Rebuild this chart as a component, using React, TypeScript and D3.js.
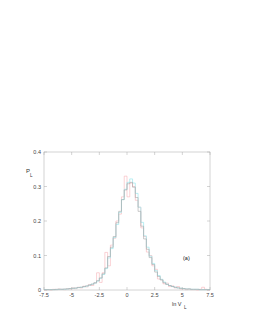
import * as d3 from 'd3';

// bins: 60 bins of width 0.25 from -7.5 to 7.5
const binStart = -7.5;
const binWidth = 0.25;

const grayValues = [
  0.001, 0.001, 0.001, 0.001, 0.002, 0.002, 0.002, 0.003, 0.003, 0.004,
  0.005, 0.006, 0.007, 0.008, 0.01, 0.012, 0.014, 0.017, 0.021, 0.027,
  0.035, 0.047, 0.064, 0.097, 0.124, 0.155, 0.195, 0.228, 0.262, 0.29,
  0.308, 0.312, 0.298, 0.268, 0.228, 0.185, 0.148, 0.118, 0.094, 0.074,
  0.052, 0.039, 0.029, 0.021, 0.016, 0.013, 0.01, 0.008, 0.006, 0.005,
  0.004, 0.003, 0.003, 0.002, 0.002, 0.002, 0.001, 0.001, 0.001, 0.001,
];

const cyanValues = [
  0.001, 0.001, 0.001, 0.001, 0.001, 0.002, 0.002, 0.002, 0.003, 0.004,
  0.005, 0.005, 0.007, 0.008, 0.009, 0.011, 0.014, 0.017, 0.02, 0.026,
  0.034, 0.045, 0.062, 0.093, 0.12, 0.152, 0.19, 0.225, 0.262, 0.292,
  0.312, 0.322, 0.31, 0.28, 0.24, 0.196, 0.157, 0.124, 0.098, 0.077,
  0.056, 0.042, 0.031, 0.023, 0.017, 0.013, 0.01, 0.008, 0.006, 0.005,
  0.004, 0.003, 0.003, 0.002, 0.002, 0.002, 0.001, 0.001, 0.001, 0.001,
];

const pinkValues = [
  0.0, 0.001, 0.0, 0.002, 0.001, 0.003, 0.002, 0.001, 0.004, 0.003,
  0.006, 0.004, 0.008, 0.006, 0.011, 0.009, 0.016, 0.013, 0.02, 0.05,
  0.022, 0.05, 0.109, 0.07, 0.13, 0.15, 0.2, 0.22, 0.27, 0.33,
  0.27, 0.31, 0.3, 0.26, 0.24, 0.18, 0.155, 0.11, 0.1, 0.07,
  0.06, 0.032, 0.03, 0.018, 0.02, 0.01, 0.012, 0.006, 0.01, 0.003,
  0.004, 0.001, 0.003, 0.001, 0.001, 0.0, 0.002, 0.008, 0.002, 0.0,
];

const xTicks = [-7.5, -5, -2.5, 0, 2.5, 5, 7.5];
const yTicks = [0, 0.1, 0.2, 0.3, 0.4];

const font = "'Liberation Sans', Arial, sans-serif";

function stepPath(values: number[], x: d3.ScaleLinear<number, number>, y: d3.ScaleLinear<number, number>) {
  const pts: [number, number][] = [];
  values.forEach((v, i) => {
    const x0 = binStart + i * binWidth;
    pts.push([x(x0), y(v)]);
    pts.push([x(x0 + binWidth), y(v)]);
  });
  return d3.line()(pts) ?? '';
}

export default function App() {
  const left = 44;
  const right = 210;
  const top = 152;
  const bottom = 290;

  const x = d3.scaleLinear().domain([-7.5, 7.5]).range([left, right]);
  const y = d3.scaleLinear().domain([0, 0.4]).range([bottom, top]);

  const tickLen = 3;
  const frame = '#a8a8a8';

  return (
    <svg
      width={253}
      height={327}
      style={{ position: 'absolute', left: 0, top: 0, background: '#fff' }}
    >
      <rect x={left} y={top} width={right - left} height={bottom - top} fill="none" stroke={frame} strokeWidth={0.5} />
      {xTicks.map((t) => (
        <g key={t}>
          <line x1={x(t)} x2={x(t)} y1={bottom} y2={bottom - tickLen} stroke={frame} strokeWidth={0.5} />
          <line x1={x(t)} x2={x(t)} y1={top} y2={top + tickLen} stroke={frame} strokeWidth={0.5} />
          <text x={x(t)} y={bottom + 7} textAnchor="middle" fontSize={5.5} fontFamily={font} fill="#444">
            {t}
          </text>
        </g>
      ))}
      {yTicks.map((t) => (
        <g key={t}>
          <line x1={left} x2={left + tickLen} y1={y(t)} y2={y(t)} stroke={frame} strokeWidth={0.5} />
          <line x1={right} x2={right - tickLen} y1={y(t)} y2={y(t)} stroke={frame} strokeWidth={0.5} />
          <text x={left - 3} y={y(t) + 2} textAnchor="end" fontSize={5.5} fontFamily={font} fill="#444">
            {t}
          </text>
        </g>
      ))}

      <path d={stepPath(pinkValues, x, y)} fill="none" stroke="#f7b3b8" strokeWidth={0.6} />
      <path d={stepPath(cyanValues, x, y)} fill="none" stroke="#9ee8ee" strokeWidth={0.7} />
      <path d={stepPath(grayValues, x, y)} fill="none" stroke="#a0a0a0" strokeWidth={0.55} />

      <text x={26} y={173} fontSize={6} fontFamily={font} fill="#333">
        P
      </text>
      <text x={30} y={177} fontSize={4.5} fontFamily={font} fill="#333">
        L
      </text>
      <text x={172} y={306} fontSize={5.5} fontFamily={font} fill="#333">
        ln V
      </text>
      <text x={184} y={309} fontSize={4.5} fontFamily={font} fill="#333">
        L
      </text>
      <text x={183} y={260} fontSize={5.5} fontFamily={font} fill="#111">
        (a)
      </text>
    </svg>
  );
}
